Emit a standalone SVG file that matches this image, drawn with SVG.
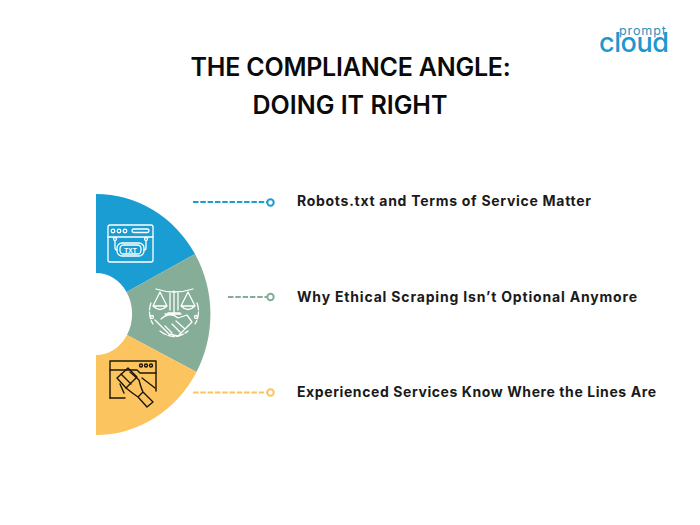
<svg xmlns="http://www.w3.org/2000/svg" width="700" height="525" viewBox="0 0 700 525">
<style>
.t{font-family:"Inter","Liberation Sans",sans-serif;font-weight:600;font-size:25px;fill:#0a0a0a;text-anchor:middle}
.l{font-family:"Inter","Open Sans",sans-serif;font-weight:700;font-size:14px;fill:#1a1a1a}
.w{fill:none;stroke:#fff;stroke-width:1.3;stroke-linecap:round;stroke-linejoin:round}
.k{fill:none;stroke:#1d1608;stroke-width:1.4;stroke-linejoin:round;stroke-linecap:round}
.d{fill:none;stroke-width:2;stroke-dasharray:5.5 1.8}
.e{fill:#fff;stroke-width:2}
</style>
<rect width="700" height="525" fill="#fff"/>
<g id="title"><text class="t" x="350.500" y="76" letter-spacing="-.22">THE COMPLIANCE ANGLE:</text><text class="t" x="350" y="114">DOING IT RIGHT</text></g>
<g id="logo" font-family="Inter,'Liberation Sans',sans-serif">
<text x="619" y="34.500" font-size="12.500" letter-spacing=".9" fill="#2a8fc0">prompt</text>
<text x="599" y="52" font-size="27" font-weight="500" letter-spacing="-.4" fill="#1c97cf">cloud</text>
</g>
<g id="segment-blue">
<path d="M96 194A114.500 120.500 0 0 1 195 254L126.500 292A36 41 0 0 0 96 273Z" fill="#1a9dd3"/>
<g class="w"><rect x="108" y="225" width="45" height="37" rx="2"/><path d="M108 237H153"/><circle cx="113" cy="231" r="1.800"/><circle cx="119" cy="231" r="1.800"/><circle cx="125" cy="231" r="1.800"/><rect x="132" y="229" width="17" height="3.500" rx="1.700"/><rect x="117" y="243" width="27" height="13" rx="5"/><rect x="120" y="245" width="21" height="9" rx="3.500"/><path d="M115 241V248Q115 250 117 250M146 241V248Q146 250 144 250"/><circle cx="115" cy="239" r="1.500"/><circle cx="146" cy="239" r="1.500"/></g>
<text x="130.500" y="252.500" font-family="'Liberation Sans',sans-serif" font-weight="700" font-size="6.500" fill="#fff" text-anchor="middle">TXT</text>
</g>
<g id="segment-green">
<path d="M195 254A114.500 120.500 0 0 1 196.500 372L127 335A36 41 0 0 0 126.500 292Z" fill="#85ad97"/>
<g class="w"><path d="M156 289Q174 295 193 289M174 291V313M168 313H180M170 292V310M178 292V310"/><path d="M160 292L153 306H167ZM153 306Q160 313 167 306M188 292L181 306H195ZM181 306Q188 313 195 306"/><path d="M151 303A24 24 0 0 0 153 324M197 303A24 24 0 0 1 195 324M160 331Q174 342 188 331" stroke-dasharray="7 2"/><path d="M155 320L169 334L178 336L192 322L187 315L178 318Q170 311 161 319M165 314H181M172 324L180 332M176 321L185 329M165 326L172 333"/><circle cx="152" cy="317" r="1.500"/><circle cx="196" cy="317" r="1.500"/></g>
</g>
<g id="segment-yellow">
<path d="M127 335L196.500 372A114.500 120.500 0 0 1 96 435V355A36 41 0 0 0 127 335Z" fill="#fcc45f"/>
<g class="k"><path d="M110 398V361H156V391"/><path d="M110 370H137L140 373H156"/><circle cx="141" cy="365.500" r="1.500"/><circle cx="146" cy="365.500" r="1.500"/><circle cx="151" cy="365.500" r="1.500"/><path d="M110 398H125M142 378L155 388"/><path d="M117 378L128 368L137 377L126 388ZM121 374L131 384"/><path d="M130 372L139 380Q141 388 143 392L138 397Q132 393 126 388M138 397L143 392L153 402L147 407ZM120 384L124 393"/></g>
</g>
<g id="connectors">
<path class="d" stroke="#1a9dd3" d="M193 202H267"/><circle class="e" stroke="#1a9dd3" cx="270.500" cy="202.500" r="3.200"/>
<path class="d" stroke="#85ad97" d="M228 297H267"/><circle class="e" stroke="#85ad97" cx="270.500" cy="297" r="3.200"/>
<path class="d" stroke="#fcc45f" d="M193 392.500H267"/><circle class="e" stroke="#fcc45f" cx="270.500" cy="392.500" r="3.200"/>
</g>
<g id="label-1"><text class="l" x="297" y="206" textLength="294">Robots.txt and Terms of Service Matter</text></g>
<g id="label-2"><text class="l" x="297" y="301.500" textLength="340">Why Ethical Scraping Isn’t Optional Anymore</text></g>
<g id="label-3"><text class="l" x="297" y="396.500" textLength="359">Experienced Services Know Where the Lines Are</text></g>
</svg>
